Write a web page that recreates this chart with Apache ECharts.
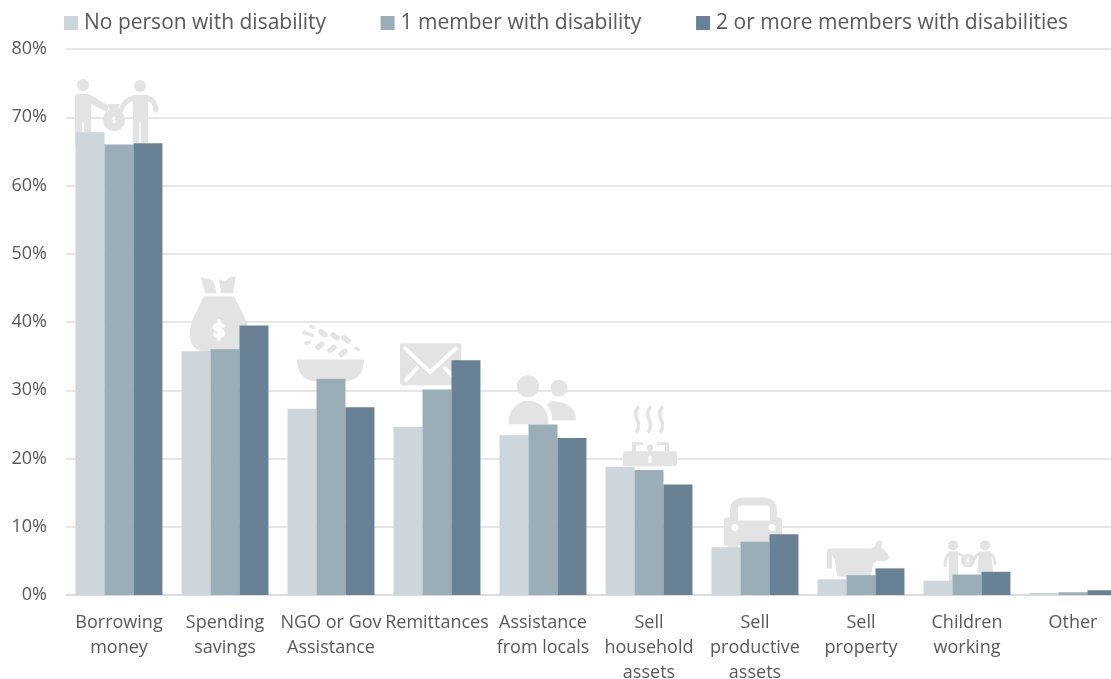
<!DOCTYPE html>
<html><head><meta charset="utf-8">
<style>html,body{margin:0;padding:0;background:#fff;overflow:hidden}#c{width:1111px;height:679px}</style>
<script src="https://cdn.jsdelivr.net/npm/echarts@6/dist/echarts.min.js"></script>
</head><body><div id="c"></div>
<script>
const categories = ["Borrowing\nmoney","Spending\nsavings","NGO or Gov\nAssistance","Remittances","Assistance\nfrom locals","Sell\nhousehold\nassets","Sell\nproductive\nassets","Sell\nproperty","Children\nworking","Other"];
const seriesNames = ["No person with disability","1 member with disability","2 or more members with disabilities"];
const noPerson = [67.8,35.7,27.3,24.6,23.4,18.8,7.0,2.3,2.1,0.3];
const oneMember = [66.0,36.0,31.7,30.1,25.0,18.3,7.8,2.9,3.0,0.4];
const twoOrMore = [66.2,39.5,27.5,34.4,23.0,16.2,8.9,3.9,3.4,0.7];
const yTicks = {min:0,max:80,interval:10};
// value at which each decorative pictogram's top edge sits
const iconTops = [75.6,46.7,39.5,36.9,32.2,27.5,14.3,8.0,8.0];
const IC='#e3e3e3', W='#ffffff';
const circ=(x,y,r)=>`M${x-r} ${y}A${r} ${r} 0 1 1 ${x+r} ${y}A${r} ${r} 0 1 1 ${x-r} ${y}Z`;
const dollar=(x,y,s)=>`M${x+3*s} ${y-3*s}Q${x} ${y-5.5*s} ${x-3*s} ${y-3*s}Q${x-3*s} ${y} ${x} ${y}Q${x+3*s} ${y} ${x+3*s} ${y+3*s}Q${x} ${y+5.5*s} ${x-3*s} ${y+3*s}M${x} ${y-7*s}V${y+7*s}`;
const icons = [
 [ // handing money
  {d:circ(-36,6,6)},
  {d:'M-44 18Q-44 15 -41 15H-30L-10 27L-12 33L-28 25V66H-44Z'},
  {d:'M-36 44V66',s:W,w:1.5},
  {d:circ(-5,41,11)},{d:'M-11 25L1 25L-1 33L-9 33Z'},
  {d:dollar(-5,41,.55),s:W,w:1},
  {d:circ(21,7,6)},
  {d:'M14 16H29V64H14Z'},
  {d:'M16 19Q6 20 2 31M27 19Q36 20 37 31',s:IC,w:5},
  {d:'M21 44V64',s:W,w:1.5}
 ],
 [ // money bag
  {d:'M-24 1L-12 4L-8 17L-20 17Z'},
  {d:'M-6 3L0 5L5 1L11 0L8 17L-4 17Z'},
  {d:'M-21 20H9L20 42Q25 52 23 62Q20 76 5 76H-17Q-32 76 -35 62Q-36 52 -32 42Z'},
  {d:dollar(-6,54,1.4),s:W,w:3.5}
 ],
 [ // bowl and grain
  {d:'M-34 34H33Q33 56 11 56H-12Q-34 56 -34 34Z'},
  {d:'M-10 6.5L-6 9.5M2 9.5L6 12.5M13 12.5L17 15.5M-13 22L-9 19M-1 25L3 22M10 29L14 26',s:IC,w:5.5},
  {d:'M-20 1L-18 2M-27 7L-19 10M-25 18L-22 17M25 23L27 24',s:IC,w:3.5}
 ],
 [ // envelope
  {d:'M-35 0H22Q24 0 24 2V40Q24 42 22 42H-35Q-37 42 -37 40V2Q-37 0 -35 0Z'},
  {d:'M-32 5L-7 29L19 5M-31 37L-20 25M8 25L15 32',s:W,w:4}
 ],
 [ // people
  {d:circ(-15,11,11)},{d:circ(16,13,8.5)},
  {d:'M-34 49V45A19.5 19.5 0 0 1 5 45V49Z'},
  {d:'M8 26Q33 26 33 45H9Q9 33 4 30Q6 27 8 26Z'}
 ],
 [ // stove
  {d:'M-11 0Q-15 6 -12 12Q-9 18 -12 24M1 0Q-3 6 0 12Q3 18 0 24M13 0Q9 6 12 12Q15 18 12 24',s:IC,w:3.5},
  {d:'M-23 44H25Q28 44 28 47V56Q28 59 25 59H-23Q-26 59 -26 56V47Q-26 44 -23 44Z'},
  {d:'M-17 44V35H-6V38H-13V44ZM20 44V35H8V38H16V44Z'},
  {d:circ(1,40,3)},{d:'M-1 40H3V44H-1Z'},
  {d:circ(1,50,2)+circ(1,54,2),f:W}
 ],
 [ // car
  {d:'M-25 20V14Q-25 0 -11 0H8Q22 0 22 14V20H24Q27 20 27 23V48H-31V23Q-31 20 -28 20Z'},
  {d:'M-27 46H-17V50Q-17 53 -22 53Q-27 53 -27 50Z'},
  {d:'M-13 8H11Q15 8 15 12V23H-17V12Q-17 8 -13 8Z',f:W},
  {d:circ(-20,30,3.5)+circ(17,30,3.5),f:W}
 ],
 [ // cow
  {d:'M-30 8H8Q12 8 14 6Q15 0 19 0Q22 0 21 4L20 7Q24 10 27 14Q29 18 27 19Q22 22 16 20L12 24L10 36H-24L-26 20L-29 14V28H-34V12Q-34 8 -30 8Z'}
 ],
 [ // children with coin
  {d:circ(-14,5,5)},{d:'M-18 11H-9V42H-18Z'},
  {d:'M-17 13Q-22 16 -22 25M-10 13Q-5 14 -1 18',s:IC,w:3},
  {d:circ(1,20,7)},{d:dollar(1,20,.45),s:W,w:.9},
  {d:circ(18,5,5)},{d:'M12 11H24L26 33H10Z'},
  {d:'M13 13Q9 15 6 20M23 13Q27 15 28 23',s:IC,w:3}
 ]
];
const iconData = iconTops.map((v,i)=>[i,v]);
const font='"Open Sans",sans-serif', txt='#595959';
const barSeries=(name,data,color)=>({name,type:'bar',data,itemStyle:{color},barGap:0,barCategoryGap:'18%',z:3,clip:false});
const chart=echarts.init(document.getElementById('c'),null,{renderer:'canvas'});
chart.setOption({
 animation:false,
 textStyle:{fontFamily:font},
 legend:{left:64,top:9,padding:0,itemWidth:14,itemHeight:14,itemGap:54.5,icon:'rect',selectedMode:false,data:seriesNames,
   textStyle:{fontFamily:font,fontSize:21,color:txt,width:241,padding:[0,0,0,1],lineHeight:28}},
 grid:{left:66,top:49,width:1060,height:546,containLabel:false,outerBoundsMode:'none'},
 xAxis:{type:'category',data:categories,axisTick:{show:false},
   axisLine:{lineStyle:{color:'#d9d9d9',width:1.5}},
   axisLabel:{interval:0,margin:15,fontFamily:font,fontSize:18,color:txt,lineHeight:25}},
 yAxis:{type:'value',min:yTicks.min,max:yTicks.max,interval:yTicks.interval,axisLine:{show:false},axisTick:{show:false},
   splitLine:{lineStyle:{color:'#dedede',width:1.5}},
   axisLabel:{formatter:'{value}%',margin:19,padding:[2,0,0,0],fontFamily:font,fontSize:18,color:txt}},
 series:[
  {type:'custom',name:'pictograms',data:iconData,z:1,silent:true,clip:false,
   renderItem(p,api){
    const idx=api.value(0);
    const pt=api.coord([idx,api.value(1)]);
    return {type:'group',x:pt[0],y:pt[1],children:icons[idx].map(e=>({type:'path',shape:{pathData:e.d},
      style:e.s?{fill:'none',stroke:e.s,lineWidth:e.w,lineCap:'round',lineJoin:'round'}:{fill:e.f||IC,stroke:null}}))};
   }},
  barSeries(seriesNames[0],noPerson,'#cdd6dc'),
  barSeries(seriesNames[1],oneMember,'#9badb6'),
  barSeries(seriesNames[2],twoOrMore,'#688194')
 ]
});
</script></body></html>
